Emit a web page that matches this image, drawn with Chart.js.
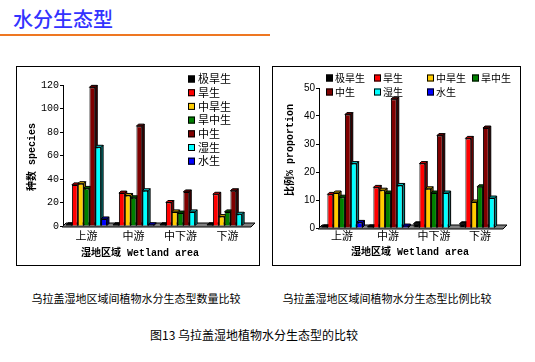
<!DOCTYPE html>
<html><head><meta charset="utf-8">
<script src="https://cdn.jsdelivr.net/npm/chart.js@4"></script>
<style>
html,body{margin:0;padding:0;background:#fff;width:535px;height:362px;overflow:hidden;font-family:"Noto Sans CJK SC",sans-serif;}
#title{position:absolute;left:13px;top:6px;font-size:20px;color:#3333ff;line-height:26px;font-weight:500;}
#rule{position:absolute;left:0;top:34px;width:270px;height:2px;background:#ee7722;}
.box{position:absolute;border:1px solid #000;box-sizing:border-box;}
.box canvas{display:block;}
.cap{position:absolute;font-size:11px;white-space:nowrap;transform:translateX(-50%);line-height:14px;color:#000;}
</style></head>
<body>
<div id="title">水分生态型</div>
<div id="rule"></div>
<div class="box" style="left:16px;top:66px;width:244px;height:200px;"><canvas id="c1" width="242" height="198"></canvas></div>
<div class="box" style="left:272px;top:66px;width:249px;height:200px;"><canvas id="c2" width="247" height="198"></canvas></div>
<div class="cap" style="left:136px;top:291px;">乌拉盖湿地区域间植物水分生态型数量比较</div>
<div class="cap" style="left:387px;top:291px;">乌拉盖湿地区域间植物水分生态型比例比较</div>
<div class="cap" style="left:254px;top:327px;font-size:12px;line-height:16px;">图13 乌拉盖湿地植物水分生态型的比较</div>
<script>
// ---- data ----
const categories = ['上游', '中游', '中下游', '下游'];
const seriesNames = ['极旱生', '旱生', '中旱生', '旱中生', '中生', '湿生', '水生'];
const seriesColors = ['#000000', '#ff0000', '#ffcc00', '#008000', '#800000', '#00ffff', '#0000ff'];

// species counts (left chart)
const countExtremeXero = [1, 1, 1, 1];
const countXero = [35, 28, 20, 27];
const countMesoXero = [36, 26, 12, 8];
const countXeroMeso = [32, 24, 11, 12];
const countMeso = [118, 85, 29, 30];
const countHygro = [67, 30, 12, 10];
const countHydro = [6, 1, 0, 0];
const countTicks = [0, 20, 40, 60, 80, 100, 120];

// proportions % (right chart)
const pctExtremeXero = [0.4, 0.4, 1.5, 1.5];
const pctXero = [12, 14.5, 23, 32];
const pctMesoXero = [12.5, 13.5, 14, 9.3];
const pctXeroMeso = [11, 12.5, 12.5, 14.7];
const pctMeso = [40.5, 46, 33, 35.7];
const pctHygro = [23, 15.2, 12.5, 10.7];
const pctHydro = [2, 0.7, 0, 0];
const pctTicks = [0, 5, 10, 15, 20, 25, 30, 35, 40, 45, 50];

// ---- helpers ----
function shade(hex, f) {
  const n = parseInt(hex.slice(1), 16);
  const r = Math.round(((n >> 16) & 255) * f), g = Math.round(((n >> 8) & 255) * f), b = Math.round((n & 255) * f);
  return `rgb(${r},${g},${b})`;
}
function poly(ctx, pts) {
  ctx.beginPath();
  ctx.moveTo(pts[0][0], pts[0][1]);
  for (let i = 1; i < pts.length; i++) ctx.lineTo(pts[i][0], pts[i][1]);
  ctx.closePath(); ctx.fill(); ctx.stroke();
}

function makeChart(id, series, ticks, cfg) {
  const depthPlugin = {
    id: 'depth3d',
    beforeDatasetsDraw(chart) {
      const {ctx, chartArea: a} = chart;
      const dx = cfg.dx, dy = cfg.dy;
      ctx.save();
      ctx.lineWidth = 1; ctx.strokeStyle = '#000';
      ctx.fillStyle = '#808080';
      poly(ctx, [[a.left - 1, a.bottom + 1], [a.right, a.bottom + 1], [a.right + dx + 2, a.bottom - dy - 1], [a.left + dx + 1, a.bottom - dy - 1]]);
      chart.data.datasets.forEach((ds, i) => {
        const meta = chart.getDatasetMeta(i);
        meta.data.forEach((bar, j) => {
          if (!ds.data[j]) return;
          const p = bar.getProps(['x', 'y', 'base', 'width'], true);
          const l = p.x - p.width / 2, r = p.x + p.width / 2;
          ctx.fillStyle = shade(ds.backgroundColor, 0.55);
          poly(ctx, [[r, p.y], [r + dx, p.y - dy], [r + dx, p.base - dy], [r, p.base]]);
          ctx.fillStyle = shade(ds.backgroundColor, 0.8);
          poly(ctx, [[l, p.y], [l + dx, p.y - dy], [r + dx, p.y - dy], [r, p.y]]);
        });
      });
      ctx.restore();
    }
  };
  const legendPlugin = {
    id: 'boxLegend',
    afterDraw(chart) {
      const ctx = chart.ctx;
      ctx.save();
      ctx.font = cfg.legendFont; ctx.textBaseline = 'middle'; ctx.textAlign = 'left';
      chart.data.datasets.forEach((ds, i) => {
        const [bx, by] = cfg.legendPos[i];
        ctx.fillStyle = ds.backgroundColor;
        ctx.fillRect(bx, by - 3.5, 7, 7);
        ctx.strokeStyle = '#000'; ctx.lineWidth = 1;
        ctx.strokeRect(bx + 0.5, by - 3, 6, 6);
        ctx.fillStyle = '#000';
        ctx.fillText(ds.label, bx + cfg.legendGap, by);
      });
      ctx.restore();
    }
  };
  const titlePlugin = {
    id: 'axisTitles',
    afterDraw(chart) {
      const ctx = chart.ctx;
      ctx.save();
      ctx.fillStyle = '#000'; ctx.textAlign = 'center'; ctx.textBaseline = 'middle';
      ctx.font = cfg.titleFont;
      ctx.fillText(cfg.xTitle.text, cfg.xTitle.x, cfg.xTitle.y);
      ctx.translate(cfg.yTitle.x, cfg.yTitle.y);
      ctx.rotate(-Math.PI / 2);
      ctx.fillText(cfg.yTitle.text, 0, 0);
      ctx.restore();
    }
  };
  return new Chart(document.getElementById(id), {
    type: 'bar',
    data: {
      labels: categories,
      datasets: series.map((d, i) => ({
        label: seriesNames[i], data: d,
        backgroundColor: seriesColors[i], borderColor: '#000', borderWidth: 1,
        borderSkipped: 'bottom', categoryPercentage: cfg.catPct, barPercentage: 1
      }))
    },
    options: {
      responsive: false, animation: false, devicePixelRatio: 1,
      layout: {padding: {left: 0, top: cfg.top, right: cfg.right, bottom: 0}},
      plugins: {legend: {display: false}, tooltip: {enabled: false}},
      scales: {
        x: {
          grid: {display: false, drawTicks: false}, border: {display: false},
          ticks: {font: {family: '"Noto Sans CJK SC"', size: 11}, color: '#000', padding: cfg.xPad},
          afterFit(s) { s.height = cfg.xH; }
        },
        y: {
          min: 0, max: ticks[ticks.length - 1],
          grid: {display: true, drawOnChartArea: false, drawTicks: true, tickLength: 3, color: '#000'},
          border: {display: true, color: '#000', width: 1},
          ticks: {font: cfg.tickFont, color: '#000', padding: 1},
          afterBuildTicks(s) { s.ticks = ticks.map(v => ({value: v})); },
          afterFit(s) { s.width = 46; }
        }
      }
    },
    plugins: [depthPlugin, legendPlugin, titlePlugin]
  });
}

const leftLegendPos = seriesNames.map((n, i) => [171, 12 + i * 13.7]);
makeChart('c1',
  [countExtremeXero, countXero, countMesoXero, countXeroMeso, countMeso, countHygro, countHydro],
  countTicks,
  {
    top: 18, right: 8, xH: 39, xPad: 3, catPct: 0.87, dx: 2, dy: 2,
    tickFont: {family: '"Liberation Mono"', size: 10},
    legendFont: '11px "Noto Sans CJK SC"', legendPos: leftLegendPos, legendGap: 10,
    titleFont: 'bold 10px "Liberation Mono", "Noto Sans CJK SC"',
    xTitle: {text: '湿地区域 Wetland area', x: 123, y: 186},
    yTitle: {text: '种数 species', x: 15, y: 90}
  });

const rightCols = [53, 101, 154, 199];
const rightLegendPos = [[rightCols[0], 11], [rightCols[1], 11], [rightCols[2], 11], [rightCols[3], 11],
                        [rightCols[0], 25], [rightCols[1], 25], [rightCols[2], 25]];
makeChart('c2',
  [pctExtremeXero, pctXero, pctMesoXero, pctXeroMeso, pctMeso, pctHygro, pctHydro],
  pctTicks,
  {
    top: 21, right: 17, xH: 37, xPad: 1, catPct: 0.89, dx: 2, dy: 2,
    tickFont: {family: '"Liberation Sans"', size: 10},
    legendFont: '10px "Noto Sans CJK SC"', legendPos: rightLegendPos, legendGap: 9,
    titleFont: 'bold 10px "Liberation Mono", "Noto Sans CJK SC"',
    xTitle: {text: '湿地区域 Wetland area', x: 137, y: 185},
    yTitle: {text: '比例% proportion', x: 17, y: 83}
  });
</script>
</body></html>
